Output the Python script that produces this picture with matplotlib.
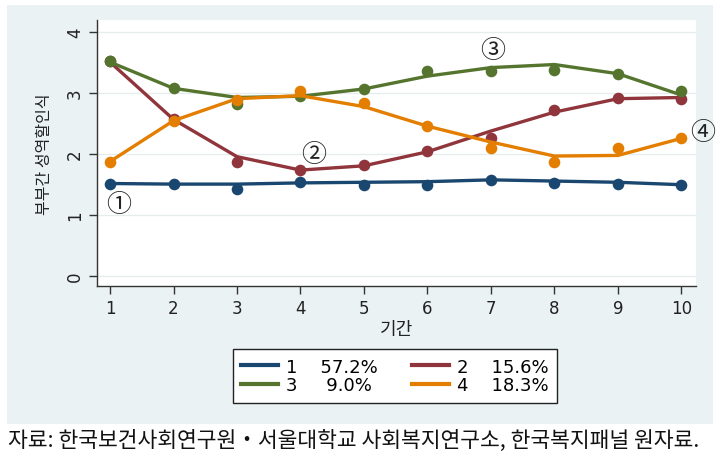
"""
부부간 성역할인식 궤적 - 잠재계층 4개 (관측값 + 추정선)
"""
import matplotlib.pyplot as plt
from matplotlib.patches import Rectangle

plt.rcParams['font.family'] = ['Noto Sans CJK KR', 'DejaVu Sans']

# 기간
periods = [1, 2, 3, 4, 5, 6, 7, 8, 9, 10]

# 관측값 (점)
obs_1 = [1.51, 1.51, 1.42, 1.54, 1.48, 1.48, 1.57, 1.52, 1.51, 1.49]
obs_2 = [3.52, 2.56, 1.86, 1.73, 1.82, 2.05, 2.25, 2.72, 2.91, 2.90]
obs_3 = [3.52, 3.07, 2.81, 2.94, 3.06, 3.36, 3.35, 3.37, 3.31, 3.02]
obs_4 = [1.87, 2.54, 2.88, 3.03, 2.83, 2.45, 2.10, 1.87, 2.09, 2.25]

# 추정값 (선)
fit_1 = [1.51, 1.50, 1.50, 1.52, 1.53, 1.54, 1.57, 1.55, 1.53, 1.49]
fit_2 = [3.50, 2.56, 1.95, 1.73, 1.80, 2.03, 2.37, 2.68, 2.90, 2.92]
fit_3 = [3.50, 3.07, 2.92, 2.94, 3.06, 3.27, 3.41, 3.46, 3.31, 2.96]
fit_4 = [1.87, 2.54, 2.90, 2.95, 2.77, 2.45, 2.19, 1.96, 1.97, 2.25]

class_labels = ['1    57.2%', '2    15.6%', '3     9.0%', '4    18.3%']
colors = ['#1A476F', '#90353B', '#55752F', '#E37E00']

# 원문자 위치
markers_txt = ['①', '②', '③', '④']
marker_x = [1.13, 4.2, 7.02, 10.34]
marker_y = [1.17, 2.0, 3.70, 2.35]

fig = plt.figure(figsize=(7.24, 4.60), dpi=100, facecolor='white')
bg = '#EAF2F3'
fig.patches.append(Rectangle((7 / 724, 1 - 425 / 460), 706 / 724, 419 / 460,
                             transform=fig.transFigure, facecolor=bg,
                             edgecolor='none', zorder=-10))

ax = fig.add_axes([97 / 724, 1 - 287 / 460, 599 / 724, 266 / 460])
ax.set_zorder(2)
ax.set_facecolor('white')

obs_all = [obs_1, obs_2, obs_3, obs_4]
fit_all = [fit_1, fit_2, fit_3, fit_4]
handles = []
for obs, fit, c, lab in zip(obs_all, fit_all, colors, class_labels):
    ax.scatter(periods, obs, s=70, color=c, zorder=3, linewidths=0)
    h, = ax.plot(periods, fit, color=c, linewidth=2.4, zorder=3, label=lab)
    handles.append(h)

for t, x, y in zip(markers_txt, marker_x, marker_y):
    ax.text(x, y, t, fontsize=18, ha='center', va='center', color='#222222',
            family=['Noto Sans CJK KR'], clip_on=False)

ax.set_xlim(0.795, 10.23)
ax.set_ylim(-0.17, 4.19)
ax.set_xticks(periods)
ax.set_yticks([0, 1, 2, 3, 4])
ax.tick_params(axis='both', direction='out', length=6, width=1, colors='#333333',
               labelsize=12, labelcolor='#222222')
for lab in ax.get_xticklabels() + ax.get_yticklabels():
    lab.set_family(['DejaVu Sans'])
for lab in ax.get_yticklabels():
    lab.set_rotation(90)
    lab.set_va('center')
ax.grid(axis='y', color='#E6EDEF', linewidth=1)
ax.set_axisbelow(True)
for s in ['top', 'right']:
    ax.spines[s].set_visible(False)
for s in ['left', 'bottom']:
    ax.spines[s].set_color('#333333')
    ax.spines[s].set_linewidth(1)

ax.set_xlabel('기간', fontsize=13, color='#222222', labelpad=2)
ax.set_ylabel('부부간 성역할인식', fontsize=11.5, color='#222222', labelpad=9)

# 범례 순서: 1, 2 / 3, 4 (2열)
order = [0, 2, 1, 3]
leg = fig.legend([handles[i] for i in order],
                 [handles[i].get_label() for i in order],
                 ncol=2, loc='center', bbox_to_anchor=(395 / 724, 1 - 377 / 460),
                 prop={'family': 'DejaVu Sans', 'size': 13},
                 frameon=True, fancybox=False, framealpha=1,
                 handlelength=2.05, handletextpad=0.45, columnspacing=1.9,
                 labelspacing=0.05, borderpad=0.45, edgecolor='#222222')
leg.get_frame().set_linewidth(1)
for line in leg.get_lines():
    line.set_linewidth(3)

fig.text(8 / 724, 1 - 441 / 460,
         '자료: 한국보건사회연구원・서울대학교 사회복지연구소, 한국복지패널 원자료.',
         fontsize=15.5, ha='left', va='center', color='#111111')

plt.savefig('out.png', dpi=100)
plt.close()
